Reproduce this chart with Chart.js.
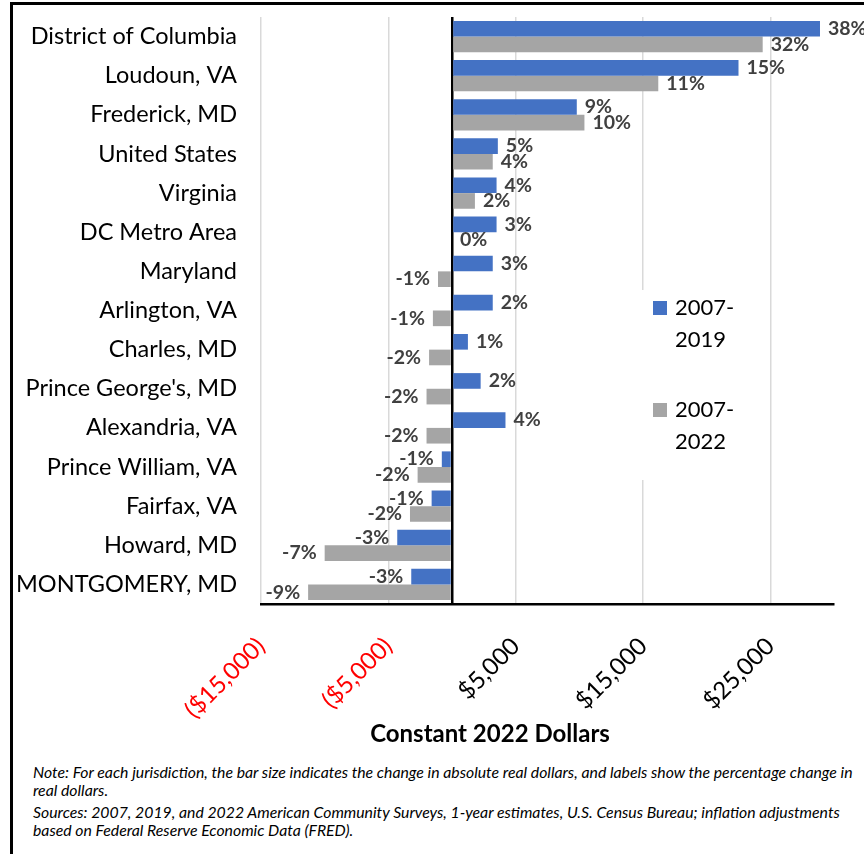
<!DOCTYPE html>
<html>
<head>
<meta charset="utf-8">
<script src="https://cdn.jsdelivr.net/npm/chart.js@4/dist/chart.umd.min.js"></script>
<style>
  body { margin: 0; background: #fff; font-family: Lato, sans-serif; }
  #wrap { position: relative; width: 864px; height: 854px; overflow: hidden; }
  #frame { position: absolute; left: 10px; top: 2px; width: 900px; height: 900px;
           border-top: 3px solid #000; border-left: 3px solid #000; }
  #chart { position: absolute; left: 0; top: 0; }
  #xtitle { position: absolute; left: 290px; top: 718px; width: 400px; text-align: center;
            font-weight: bold; font-size: 24px; color: #000; }
  #notes { position: absolute; left: 33px; top: 763px; font-style: italic; font-size: 15.8px;
           line-height: 18px; color: #000; white-space: nowrap; }
  #notes p { margin: 0 0 4px 0; }
</style>
</head>
<body>
<div id="wrap">
  <div id="frame"></div>
  <canvas id="chart" width="864" height="760"></canvas>
  <div id="xtitle">Constant 2022 Dollars</div>
  <div id="notes">
    <p>Note: For each jurisdiction, the bar size indicates the change in absolute real dollars, and labels show the percentage change in<br>real dollars.</p>
    <p>Sources: 2007, 2019, and 2022 American Community Surveys, 1-year estimates, U.S. Census Bureau; inflation adjustments<br>based on Federal Reserve Economic Data (FRED).</p>
  </div>
</div>
<script>
const places = ['District of Columbia', 'Loudoun, VA', 'Frederick, MD', 'United States', 'Virginia',
  'DC Metro Area', 'Maryland', 'Arlington, VA', 'Charles, MD', "Prince George's, MD",
  'Alexandria, VA', 'Prince William, VA', 'Fairfax, VA', 'Howard, MD', 'MONTGOMERY, MD'];

// change in real dollars
const change2019 = [28900, 22500, 9800, 3600, 3500, 3500, 3200, 3200, 1250, 2250, 4200, -800, -1600, -4300, -3200];
const change2022 = [24400, 16200, 10400, 3200, 1800, 0, -1100, -1500, -1800, -2000, -2000, -2700, -3300, -10000, -11300];

// percentage labels
const pct2019 = [38, 15, 9, 5, 4, 3, 3, 2, 1, 2, 4, -1, -1, -3, -3];
const pct2022 = [32, 11, 10, 4, 2, 0, -1, -1, -2, -2, -2, -2, -2, -7, -9];

const tickVals = [-15000, -5000, 0, 5000, 15000, 25000];

const money = v => {
  if (v === 0) return '';
  const s = '$' + Math.abs(v).toLocaleString('en-US');
  return v < 0 ? '(' + s + ')' : s;
};

// percent labels at the bar ends
const pctLabels = {
  id: 'pctLabels',
  afterDatasetsDraw(chart) {
    const ctx = chart.ctx;
    ctx.save();
    ctx.font = 'bold 19.5px Lato';
    ctx.fillStyle = '#404040';
    ctx.textBaseline = 'middle';
    chart.data.datasets.forEach((ds, i) => {
      chart.getDatasetMeta(i).data.forEach((bar, j) => {
        const neg = ds.data[j] < 0;
        ctx.textAlign = neg ? 'right' : 'left';
        ctx.fillText(ds.pct[j] + '%', bar.x + (neg ? -8 : 8), bar.y);
      });
    });
    ctx.restore();
  }
};

// legend sitting inside the plot
const boxLegend = {
  id: 'boxLegend',
  afterDatasetsDraw(chart) {
    const ctx = chart.ctx;
    ctx.save();
    ctx.fillStyle = '#fff';
    ctx.fillRect(636, 290, 128, 190);
    ctx.font = '22px Lato';
    ctx.textBaseline = 'middle';
    ctx.textAlign = 'left';
    chart.data.datasets.forEach((ds, i) => {
      const y = 308 + i * 102;
      ctx.fillStyle = ds.backgroundColor;
      ctx.fillRect(653, y - 7, 14, 14);
      ctx.fillStyle = '#000';
      const parts = ds.label.split('-');
      ctx.fillText(parts[0] + '-', 675, y);
      ctx.fillText(parts[1], 675, y + 32);
    });
    ctx.restore();
  }
};

new Chart(document.getElementById('chart'), {
  type: 'bar',
  data: {
    labels: places,
    datasets: [
      { label: '2007-2019', data: change2019, pct: pct2019, backgroundColor: '#4472c4' },
      { label: '2007-2022', data: change2022, pct: pct2022, backgroundColor: '#a5a5a5' }
    ]
  },
  options: {
    indexAxis: 'y',
    responsive: false,
    animation: false,
    layout: { padding: { top: 17, right: 30, left: 0, bottom: 0 } },
    datasets: { bar: { barPercentage: 1, categoryPercentage: 0.8 } },
    plugins: { legend: { display: false }, tooltip: { enabled: false } },
    scales: {
      x: {
        min: -15000,
        max: 30000,
        afterBuildTicks: s => { s.ticks = tickVals.map(v => ({ value: v })); },
        afterFit: s => { s.height = 156; },
        grid: {
          color: c => (c.tick && c.tick.value === 0) ? '#000' : '#d9d9d9',
          lineWidth: c => (c.tick && c.tick.value === 0) ? 2.5 : 1.5,
          drawTicks: false
        },
        border: { color: '#000', width: 2.5 },
        ticks: {
          autoSkip: false,
          minRotation: 45,
          maxRotation: 45,
          padding: 28,
          color: c => c.tick.value < 0 ? '#ff0000' : '#000',
          font: { family: 'Lato', size: 24 },
          callback: v => money(v)
        }
      },
      y: {
        afterFit: s => { s.width = 261; s.paddingTop = 0; s.paddingBottom = 0; },
        grid: { display: false, drawTicks: false },
        border: { display: false },
        ticks: { padding: 24, color: '#000', font: { family: 'Lato', size: 23.5 } }
      }
    }
  },
  plugins: [pctLabels, boxLegend]
});
</script>
</body>
</html>
